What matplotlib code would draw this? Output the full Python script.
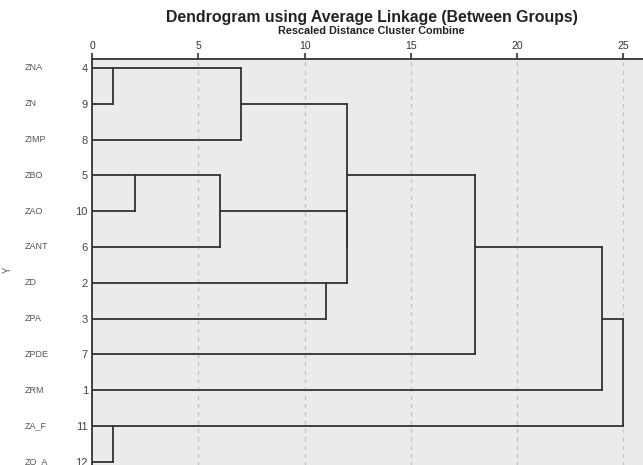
import math
import matplotlib
matplotlib.use('Agg')
import matplotlib.pyplot as plt

# leaves in display order (top to bottom)
labels = ['ZNA', 'ZN', 'ZIMP', 'ZBO', 'ZAO', 'ZANT', 'ZD', 'ZPA', 'ZPDE', 'ZRM', 'ZA_F', 'ZO_A']
case_numbers = [4, 9, 8, 5, 10, 6, 2, 3, 7, 1, 11, 12]

# merges: new cluster ids start at len(labels)
merge_left = [0, 10, 3, 14, 12, 6, 15, 16, 19, 20, 21]
merge_right = [1, 11, 4, 5, 2, 7, 17, 18, 8, 9, 13]
merge_height = [1, 1, 2, 6, 7, 11, 12, 12, 18, 24, 25]

xticks = [0, 5, 10, 15, 20, 25]

plt.rcParams['font.family'] = ['Liberation Sans', 'DejaVu Sans']

fig = plt.figure(figsize=(6.43, 4.65), dpi=100)
ax = fig.add_axes([0.1431, -0.0316, 0.857, 0.9047])
ax.set_facecolor('#ebebeb')

n = len(labels)
pos = {i: (0.0, i) for i in range(n)}
line_kw = dict(color='#333333', lw=1.3, solid_capstyle='projecting', zorder=3)
for k, (a, b, h) in enumerate(zip(merge_left, merge_right, merge_height)):
    xa, ya = pos[a]
    xb, yb = pos[b]
    ax.plot([xa, h], [ya, ya], **line_kw)
    ax.plot([xb, h], [yb, yb], **line_kw)
    ax.plot([h, h], [ya, yb], **line_kw)
    pos[n + k] = (h, math.floor((ya + yb) / 2))

for t in xticks[1:]:
    ax.axvline(t, color='#c9c3cc', lw=1.0, ls=(0, (3, 3)), zorder=1)

ax.set_xlim(0, 25.93)
ax.set_ylim(11.5, -0.25)
ax.xaxis.tick_top()
ax.set_xticks(xticks)
ax.tick_params(axis='x', length=4, width=1.2, color='#333333', labelsize=7.5,
               labelcolor='#333333', pad=2)
ax.set_yticks(range(n))
ax.set_yticklabels([str(c) for c in case_numbers])
ax.tick_params(axis='y', length=0, labelsize=8, labelcolor='#444444', pad=3)
for i, name in enumerate(labels):
    ax.text(-0.122, i, name, transform=ax.get_yaxis_transform(), fontsize=6.5,
            color='#555555', ha='left', va='center')
ax.text(-0.152, 0.5, 'Y', transform=ax.transAxes, rotation=90, fontsize=7,
        color='#555555', ha='center', va='center')

for s in ['top', 'left']:
    ax.spines[s].set_color('#333333')
    ax.spines[s].set_linewidth(1.3)
for s in ['right', 'bottom']:
    ax.spines[s].set_visible(False)

fig.text(0.578, 0.963, 'Dendrogram using Average Linkage (Between Groups)',
         fontsize=11.4, fontweight='bold', ha='center', va='center', color='#222222')
fig.text(0.578, 0.933, 'Rescaled Distance Cluster Combine',
         fontsize=7.8, fontweight='bold', ha='center', va='center', color='#222222')

fig.savefig('out.png', dpi=100)
